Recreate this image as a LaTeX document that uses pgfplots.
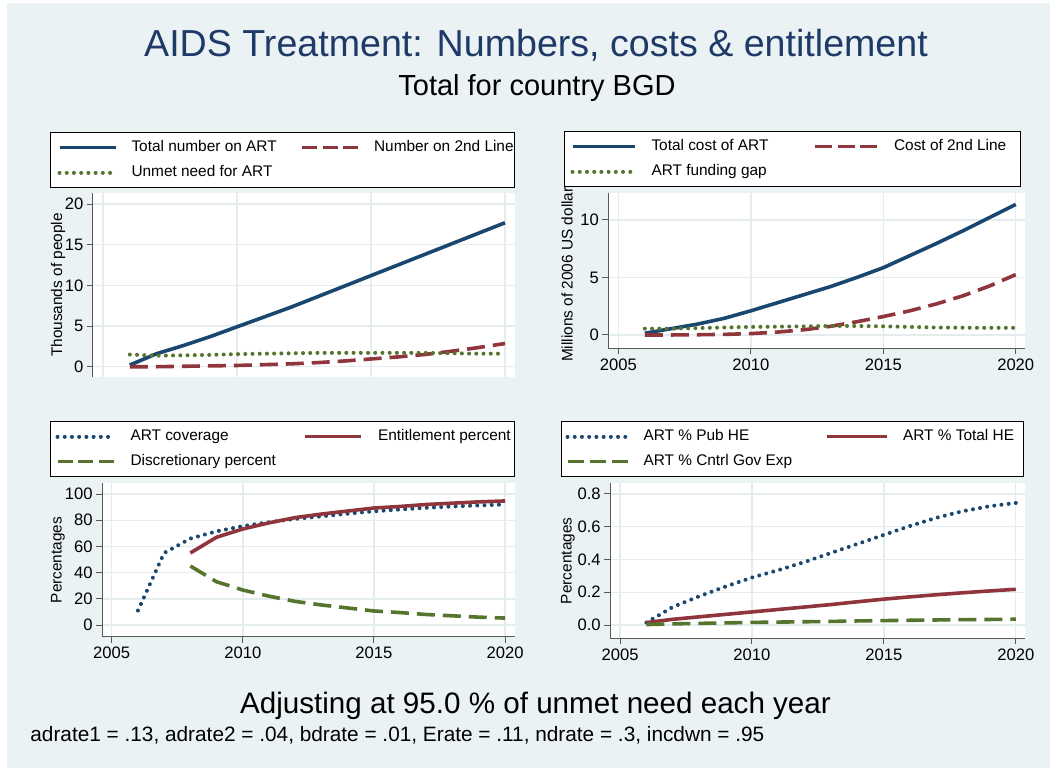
\documentclass[border=0pt]{standalone}
\usepackage{pgfplots}
\pgfplotsset{compat=1.18}
\usepackage{pgfplotstable}
\usepackage{fontspec}
\setmainfont{Liberation Sans}
\definecolor{stnavy}{HTML}{1A476F}
\definecolor{sttitle}{HTML}{1F3A68}
\definecolor{stmaroon}{HTML}{90353B}
\definecolor{stgreen}{HTML}{55752F}
\definecolor{stbg}{HTML}{EAF2F3}
\definecolor{stgrid}{HTML}{E4ECEE}

\pgfplotstableread{
year tot second unmet
2006 0.2 0.00 1.50
2007 1.6 0.00 1.35
2008 2.6 0.05 1.40
2009 3.7 0.10 1.45
2010 4.9 0.15 1.55
2011 6.1 0.25 1.60
2012 7.3 0.35 1.65
2013 8.6 0.50 1.70
2014 9.9 0.70 1.70
2015 11.2 0.95 1.70
2016 12.5 1.20 1.70
2017 13.8 1.50 1.70
2018 15.1 1.90 1.65
2019 16.4 2.35 1.60
2020 17.7 2.85 1.60
}\tabTL

\pgfplotstableread{
year tot second gap
2006 0.15 0.00 0.55
2007 0.55 0.00 0.55
2008 0.95 0.02 0.60
2009 1.45 0.05 0.65
2010 2.10 0.12 0.70
2011 2.80 0.25 0.72
2012 3.50 0.45 0.75
2013 4.20 0.75 0.78
2014 5.00 1.15 0.78
2015 5.85 1.60 0.75
2016 6.90 2.10 0.70
2017 7.95 2.70 0.65
2018 9.05 3.40 0.63
2019 10.20 4.25 0.62
2020 11.35 5.25 0.62
}\tabTR

\pgfplotstableread{
year cover ent disc
2006 11 nan nan
2007 55 nan nan
2008 66 55 45
2009 71.5 67 33
2010 75.5 73.3 26.7
2011 78.5 78 22
2012 81 82 18
2013 83 84.7 15.3
2014 85 87 13
2015 86.8 89.3 10.7
2016 88.2 90.5 9.5
2017 89.5 92 8
2018 90.5 93 7
2019 91.3 94 6
2020 92 94.7 5.3
}\tabBL

\pgfplotstableread{
year pub tot gov
2006 0.015 0.015 0.003
2007 0.11 0.035 0.007
2008 0.175 0.05 0.010
2009 0.235 0.065 0.013
2010 0.29 0.08 0.016
2011 0.335 0.095 0.018
2012 0.385 0.11 0.020
2013 0.44 0.125 0.022
2014 0.495 0.142 0.025
2015 0.55 0.158 0.027
2016 0.605 0.172 0.029
2017 0.655 0.185 0.031
2018 0.695 0.197 0.033
2019 0.725 0.208 0.034
2020 0.745 0.218 0.036
}\tabBR

\pgfplotsset{
  panel/.style={
    scale only axis, anchor=south west,
    axis lines*=left,
    axis line style={-, draw=black!65, line width=0.5pt},
    axis background/.style={fill=white},
    tick align=outside, major tick length=3pt,
    every tick/.style={black!65, line width=0.5pt},
    grid=major, major grid style={stgrid, line width=0.7pt},
    xtick={2005,2010,2015,2020},
    /pgf/number format/assume math mode=true,
    ticklabel style={font=\fontsize{8.3}{10}\selectfont},
    xticklabel style={/pgf/number format/1000 sep={}, inner ysep=2pt},
    yticklabel style={inner xsep=1.5pt},
    legend cell align=left,
  },
  ylab/.style={every axis y label/.style={at={(axis description cs:#1,0.5)}, rotate=90, anchor=base, inner sep=0pt, font=\fontsize{7.7}{9}\selectfont}},
  sol/.style={line width=1.8pt, solid},
  dsh/.style={line width=1.8pt, dash pattern=on 9pt off 4pt},
  dotl/.style={line width=2pt, line cap=round, dash pattern=on 0.01pt off 3.6pt},
  leg/.style n args={5}{
    legend columns=2,
    legend image code/.code={\draw[##1] (0pt,0pt) -- (#3,0pt);},
    legend style={
      at={(axis description cs:0,1)}, anchor=south west, xshift=#1, yshift=#2,
      draw=black, line width=0.5pt, fill=white,
      inner xsep=#5, inner ysep=2.5pt, row sep=2.5pt,
      font=\fontsize{7.7}{9}\selectfont,
      nodes={inner xsep=0pt, inner ysep=1pt, text height=6pt, text depth=2pt},
      /tikz/every odd column/.style={column sep=#4},
      /tikz/every even column/.style={column sep=3.5pt},
    },
  },
}

\begin{document}
\begin{tikzpicture}
\fill[white] (0pt,0pt) rectangle (525pt,384pt);
\fill[stbg] (3.35pt,0pt) rectangle (525pt,382.65pt);

\node[anchor=base, text=sttitle, font=\fontsize{18.8}{22}\selectfont] at (268pt,355.65pt) {AIDS Treatment: Numbers, costs \& entitlement};
\node[anchor=base, font=\fontsize{14.5}{17}\selectfont] at (268.5pt,336.5pt) {Total for country BGD};
\node[anchor=base, font=\fontsize{14.8}{17}\selectfont] at (267.75pt,27.35pt) {Adjusting at 95.0 \% of unmet need each year};
\node[anchor=base west, inner sep=0pt, font=\fontsize{10.4}{12}\selectfont] at (15pt,13.15pt) {adrate1 = .13, adrate2 = .04, bdrate = .01, Erate = .11, ndrate = .3, incdwn = .95};

% Top left
\begin{axis}[panel, at={(46.35pt,195.65pt)}, width=211.15pt, height=91.7pt,
  xmin=2004.616, xmax=2020.373, ymin=-1.23, ymax=21.32,
  ytick={0,5,10,15,20}, xticklabels={,,,,}, xtick style={draw=none},
  x axis line style={draw=none},
  ylab=-0.0727, ylabel={Thousands of people},
  leg={-21.35pt}{2.65pt}{28pt}{7pt}{3.5pt}]
\addplot[stnavy, sol] table[x=year, y=tot] {\tabTL};
\addlegendentry{\makebox[81pt][l]{Total number on ART}}
\addplot[stmaroon, dsh, legend image post style={dash pattern=on 7.5pt off 2.75pt}] table[x=year, y=second] {\tabTL};
\addlegendentry{\makebox[66.5pt][l]{Number on 2nd Line}}
\addplot[stgreen, dotl] table[x=year, y=unmet] {\tabTL};
\addlegendentry{\makebox[81pt][l]{Unmet need for ART}}
\end{axis}

% Top right
\begin{axis}[panel, at={(304.15pt,209.85pt)}, width=208.35pt, height=77.5pt,
  xmin=2004.62, xmax=2020.35, ymin=-1.16, ymax=12.32,
  ytick={0,5,10},
  ylab=-0.0854, ylabel={Millions of 2006 US dollars},
  leg={-22.15pt}{3.15pt}{31pt}{7.5pt}{3pt}]
\addplot[stnavy, sol] table[x=year, y=tot] {\tabTR};
\addlegendentry{\makebox[77.5pt][l]{Total cost of ART}}
\addplot[stmaroon, dsh, legend image post style={dash pattern=on 8.5pt off 2.75pt}] table[x=year, y=second] {\tabTR};
\addlegendentry{\makebox[60pt][l]{Cost of 2nd Line}}
\addplot[stgreen, dotl] table[x=year, y=gap] {\tabTR};
\addlegendentry{\makebox[77.5pt][l]{ART funding gap}}
\end{axis}

% Bottom left
\begin{axis}[panel, at={(51pt,65.65pt)}, width=206.5pt, height=76.7pt,
  xmin=2004.63, xmax=2020.38, ymin=-8.93, ymax=108.17,
  ytick={0,20,40,60,80,100},
  ylab=-0.0976, ylabel={Percentages},
  leg={-26pt}{3.15pt}{28pt}{7.5pt}{2.5pt}]
\addplot[stnavy, dotl] table[x=year, y=cover] {\tabBL};
\addlegendentry{\makebox[83pt][l]{ART coverage}}
\addplot[stmaroon, sol] table[x=year, y=ent] {\tabBL};
\addlegendentry{\makebox[65.5pt][l]{Entitlement percent}}
\addplot[stgreen, dsh, legend image post style={dash pattern=on 7.5pt off 2.75pt}] table[x=year, y=disc] {\tabBL};
\addlegendentry{\makebox[83pt][l]{Discretionary percent}}
\end{axis}

% Bottom right
\begin{axis}[panel, at={(305pt,64.85pt)}, width=207.5pt, height=77.5pt,
  xmin=2004.62, xmax=2020.35, ymin=-0.081, ymax=0.865,
  ytick={0,0.2,0.4,0.6,0.8},
  yticklabel style={/pgf/number format/.cd, fixed, fixed zerofill, precision=1},
  ylab=-0.0923, ylabel={Percentages},
  leg={-24.5pt}{3.15pt}{30pt}{7pt}{2pt}]
\addplot[stnavy, dotl] table[x=year, y=pub] {\tabBR};
\addlegendentry{\makebox[87.5pt][l]{ART \% Pub HE}}
\addplot[stmaroon, sol] table[x=year, y=tot] {\tabBR};
\addlegendentry{\makebox[58pt][l]{ART \% Total HE}}
\addplot[stgreen, dsh, legend image post style={dash pattern=on 8pt off 3pt}] table[x=year, y=gov] {\tabBR};
\addlegendentry{\makebox[87.5pt][l]{ART \% Cntrl Gov Exp}}
\end{axis}
\end{tikzpicture}
\end{document}
